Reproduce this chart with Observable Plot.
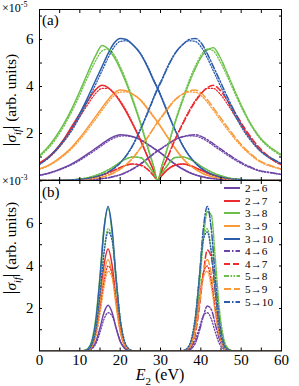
<!DOCTYPE html>
<html><head><meta charset="utf-8">
<script src="https://cdn.jsdelivr.net/npm/d3@7"></script>
<script src="https://cdn.jsdelivr.net/npm/@observablehq/plot@0.6"></script>
<style>
body{margin:0;background:#fff;}
#wrap{position:relative;width:299px;height:386px;font-family:"Liberation Serif","Times New Roman",Times,serif;color:#000;overflow:hidden;}
#wrap svg{position:absolute;left:0;}
.t{position:absolute;white-space:nowrap;line-height:1;}
.leg{position:absolute;left:224px;top:182px;font-size:11.2px;line-height:12px;}
.leg div{height:12.6px;display:flex;align-items:center;}
.leg span{line-height:12px;}
.leg svg{position:static !important;margin-right:5px;}
</style></head><body><div id="wrap"></div>
<script>
// transitions (legend order)
const transitions = ["2→6","2→7","3→8","3→9","3→10","4→6","4→7","5→8","5→9","5→10"];
const colors = ["#6d44a6","#eb2b2f","#6cc04a","#f99b3a","#2c5dab","#6d44a6","#eb2b2f","#6cc04a","#f99b3a","#2c5dab"];
const dashes = [null,null,null,null,null,"6,2,1.5,2","6,3","5,1.5,1.5,1.5,1.5,1.5","7,3","6,2,1.5,2"];

// panel (a): E2 grid (eV) and |sigma| values (x1e-5)
const Ea = [0,2,4,6,8,10,12,14,15.5,17,18.5,20,21.5,23,25,27,28.3,29.3,30.3,31.6,33.6,35.6,37.1,38.6,40.1,41.6,43.1,44.6,46.6,48.6,50.6,52.6,54.6,56.6,58.6,60];
const a_2_6  = [0.22,0.3,0.41,0.55,0.71,0.91,1.14,1.38,1.56,1.74,1.88,1.95,1.93,1.87,1.74,1.52,1.37,1.26,1.13,0.95,0.69,0.47,0.34,0.24,0.17,0.11,0.08,0.05,0.03,0.02,0.01,0,0,0,0,0];
const a_2_7  = [0.75,0.98,1.3,1.75,2.3,2.85,3.4,3.88,4.05,3.95,3.7,3.35,2.92,2.43,1.72,0.92,0.42,0,0.2,0.44,0.65,0.7,0.65,0.55,0.43,0.32,0.23,0.16,0.09,0.05,0.02,0.01,0,0,0,0];
const a_3_8  = [1.06,1.4,1.85,2.4,3.05,3.8,4.6,5.35,5.75,5.6,5.25,4.75,4.15,3.45,2.45,1.3,0.6,0,0.3,0.62,0.98,1.0,0.92,0.78,0.6,0.45,0.32,0.22,0.12,0.06,0.03,0.015,0.01,0,0,0];
const a_3_9  = [0.5,0.63,0.84,1.1,1.42,1.82,2.27,2.74,3.1,3.44,3.72,3.85,3.82,3.69,3.43,3.0,2.7,2.48,2.22,1.88,1.37,0.92,0.67,0.48,0.33,0.22,0.15,0.1,0.06,0.03,0.02,0.01,0,0,0,0];
const a_3_10 = [0.7,0.95,1.3,1.72,2.22,2.85,3.55,4.3,4.85,5.4,5.85,6.05,6.0,5.8,5.4,4.75,4.25,3.9,3.5,2.95,2.15,1.45,1.05,0.75,0.52,0.35,0.24,0.16,0.09,0.05,0.03,0.015,0.01,0,0,0];
const a_4_6  = [0,0,0,0,0.01,0.02,0.03,0.05,0.08,0.11,0.17,0.24,0.34,0.47,0.69,0.95,1.13,1.26,1.37,1.52,1.74,1.87,1.93,1.95,1.88,1.74,1.56,1.38,1.14,0.91,0.71,0.55,0.42,0.36,0.3,0.26];
const a_4_7  = [0,0,0,0.01,0.02,0.05,0.09,0.16,0.23,0.32,0.43,0.55,0.65,0.7,0.65,0.44,0.2,0,0.42,0.92,1.72,2.43,2.92,3.35,3.7,3.95,4.05,3.88,3.4,2.85,2.3,1.8,1.38,1.05,0.8,0.68];
const a_5_8  = [0,0,0.01,0.015,0.03,0.06,0.12,0.22,0.32,0.45,0.6,0.78,0.92,1.0,0.98,0.62,0.3,0,0.6,1.3,2.45,3.45,4.15,4.75,5.25,5.55,5.65,5.3,4.55,3.75,3.0,2.35,1.85,1.5,1.25,1.1];
const a_5_9  = [0,0,0,0.01,0.02,0.03,0.06,0.1,0.15,0.22,0.33,0.48,0.67,0.92,1.37,1.88,2.22,2.48,2.7,3.0,3.43,3.69,3.82,3.85,3.72,3.44,3.1,2.74,2.27,1.82,1.42,1.1,0.84,0.68,0.56,0.48];
const a_5_10 = [0,0,0.01,0.015,0.03,0.05,0.09,0.16,0.24,0.35,0.52,0.75,1.05,1.45,2.15,2.95,3.5,3.9,4.25,4.75,5.4,5.8,6.0,6.05,5.85,5.4,4.85,4.3,3.55,2.85,2.22,1.72,1.3,1.05,0.85,0.72];
// dotted counterparts in (a)
const ad_2_6  = [0.22,0.29,0.39,0.52,0.67,0.86,1.08,1.31,1.49,1.67,1.81,1.89,1.9,1.86,1.74,1.53,1.38,1.27,1.15,0.97,0.71,0.49,0.36,0.25,0.18,0.12,0.08,0.05,0.03,0.02,0.01,0,0,0,0,0];
const ad_2_7  = [0.73,0.95,1.25,1.68,2.2,2.72,3.25,3.72,3.92,3.92,3.72,3.4,2.98,2.48,1.76,0.94,0.43,0,0.21,0.45,0.66,0.7,0.65,0.55,0.43,0.32,0.23,0.16,0.09,0.05,0.02,0.01,0,0,0,0];
const ad_3_8  = [1.02,1.34,1.76,2.3,2.93,3.65,4.42,5.12,5.52,5.6,5.35,4.86,4.26,3.55,2.52,1.34,0.62,0,0.3,0.62,0.97,1.0,0.92,0.78,0.6,0.45,0.32,0.22,0.12,0.06,0.03,0.015,0.01,0,0,0];
const ad_3_9  = [0.48,0.6,0.8,1.05,1.36,1.74,2.17,2.63,2.99,3.33,3.61,3.76,3.77,3.68,3.45,3.04,2.74,2.5,2.24,1.9,1.39,0.94,0.68,0.49,0.34,0.23,0.15,0.1,0.06,0.03,0.02,0.01,0,0,0,0];
const ad_3_10 = [0.68,0.92,1.25,1.65,2.12,2.72,3.4,4.12,4.67,5.22,5.68,5.92,5.95,5.8,5.42,4.8,4.3,3.95,3.55,3.0,2.18,1.48,1.07,0.76,0.53,0.36,0.24,0.16,0.09,0.05,0.03,0.015,0.01,0,0,0];
const ad_4_6  = [0,0,0,0,0.01,0.02,0.03,0.05,0.08,0.12,0.18,0.25,0.36,0.49,0.71,0.97,1.15,1.27,1.38,1.53,1.74,1.86,1.9,1.89,1.81,1.67,1.49,1.31,1.08,0.86,0.67,0.52,0.4,0.34,0.29,0.25];
const ad_4_7  = [0,0,0,0.01,0.02,0.05,0.09,0.16,0.23,0.32,0.43,0.55,0.65,0.7,0.66,0.45,0.21,0,0.43,0.94,1.76,2.48,2.98,3.4,3.72,3.92,3.92,3.72,3.25,2.72,2.2,1.72,1.32,1.02,0.78,0.66];
const ad_5_8  = [0,0,0.01,0.015,0.03,0.06,0.12,0.22,0.32,0.45,0.6,0.78,0.92,1.0,0.97,0.62,0.3,0,0.62,1.34,2.52,3.55,4.26,4.86,5.35,5.6,5.52,5.12,4.42,3.65,2.93,2.3,1.8,1.45,1.2,1.05];
const ad_5_9  = [0,0,0,0.01,0.02,0.03,0.06,0.1,0.15,0.23,0.34,0.49,0.68,0.94,1.39,1.9,2.24,2.5,2.74,3.04,3.45,3.68,3.77,3.76,3.61,3.33,2.99,2.63,2.17,1.74,1.36,1.05,0.8,0.64,0.54,0.47];
const ad_5_10 = [0,0,0.01,0.015,0.03,0.05,0.09,0.16,0.24,0.36,0.53,0.76,1.07,1.48,2.18,3.0,3.55,3.95,4.3,4.8,5.42,5.8,5.95,5.92,5.68,5.22,4.67,4.12,3.4,2.72,2.12,1.65,1.27,1.0,0.82,0.7];

// panel (b): E2 grid (eV) and |sigma| values (x1e-3)
const Eb = [0,9,10,11,12,13,14,15,16,17,18,19,20,21,22,23,24,25,33.6,34.6,35.6,36.6,37.6,38.6,39.6,40.6,41.6,42.6,43.6,44.6,45.6,46.6,47.6,48.6,49.6,60];
const b_2_6  = [0,0,0,0,0.03,0.14,0.45,1.08,1.81,2.15,1.81,1.08,0.45,0.14,0.03,0,0,0, 0,0,0,0,0,0,0,0,0,0,0,0,0,0,0,0,0,0];
const b_2_7  = [0,0,0,0.01,0.06,0.3,1.01,2.4,4.04,4.8,4.04,2.4,1.01,0.3,0.06,0.01,0,0, 0,0,0,0,0,0,0,0,0,0,0,0,0,0,0,0,0,0];
const b_3_8  = [0,0,0,0.02,0.12,0.5,1.6,3.55,5.8,6.7,5.55,3.25,1.35,0.4,0.08,0.01,0,0, 0,0,0,0,0,0,0,0,0,0,0,0,0,0,0,0,0,0];
const b_3_9  = [0,0,0,0.01,0.06,0.27,0.91,2.15,3.62,4.3,3.62,2.15,0.91,0.27,0.06,0.01,0,0, 0,0,0,0,0,0,0,0,0,0,0,0,0,0,0,0,0,0];
const b_3_10 = [0,0,0,0.01,0.09,0.43,1.43,3.41,5.72,6.8,5.72,3.41,1.43,0.43,0.09,0.01,0,0, 0,0,0,0,0,0,0,0,0,0,0,0,0,0,0,0,0,0];
const b_4_6  = [0,0,0,0,0,0,0,0,0,0,0,0,0,0,0,0,0,0, 0,0,0,0.02,0.1,0.36,0.92,1.62,2.12,1.95,1.25,0.56,0.18,0.04,0.01,0,0,0];
const b_4_7  = [0,0,0,0,0,0,0,0,0,0,0,0,0,0,0,0,0,0, 0,0,0.01,0.04,0.2,0.75,2.0,3.6,4.75,4.4,2.8,1.25,0.4,0.09,0.01,0,0,0];
const b_5_8  = [0,0,0,0,0,0,0,0,0,0,0,0,0,0,0,0,0,0, 0,0,0.01,0.06,0.3,1.1,2.9,5.2,6.55,6.4,4.3,1.95,0.65,0.15,0.02,0,0,0];
const b_5_9  = [0,0,0,0,0,0,0,0,0,0,0,0,0,0,0,0,0,0, 0,0,0.01,0.06,0.27,0.91,2.15,3.62,4.3,3.62,2.15,0.91,0.27,0.06,0.01,0,0,0];
const b_5_10 = [0,0,0,0,0,0,0,0,0,0,0,0,0,0,0,0,0,0, 0,0,0.01,0.09,0.43,1.43,3.41,5.72,6.8,5.72,3.41,1.43,0.43,0.09,0.01,0,0,0];
// dotted counterparts in (b)
const bd_2_6  = [0,0,0,0,0.02,0.1,0.35,0.87,1.5,1.8,1.65,1.08,0.5,0.17,0.04,0.01,0,0, 0,0,0,0,0,0,0,0,0,0,0,0,0,0,0,0,0,0];
const bd_2_7  = [0,0,0,0.01,0.04,0.22,0.75,1.9,3.25,4.0,3.65,2.38,1.1,0.37,0.09,0.01,0,0, 0,0,0,0,0,0,0,0,0,0,0,0,0,0,0,0,0,0];
const bd_3_8  = [0,0,0,0.01,0.07,0.33,1.12,2.8,4.75,5.75,5.3,3.45,1.58,0.53,0.13,0.02,0,0, 0,0,0,0,0,0,0,0,0,0,0,0,0,0,0,0,0,0];
const bd_3_9  = [0,0,0,0.01,0.04,0.2,0.7,1.75,3.0,3.75,3.45,2.25,1.03,0.35,0.09,0.01,0,0, 0,0,0,0,0,0,0,0,0,0,0,0,0,0,0,0,0,0];
const bd_3_10 = [0,0,0,0.01,0.06,0.3,1.05,2.7,4.6,5.6,5.2,3.4,1.55,0.52,0.13,0.02,0,0, 0,0,0,0,0,0,0,0,0,0,0,0,0,0,0,0,0,0];
const bd_4_6  = [0,0,0,0,0,0,0,0,0,0,0,0,0,0,0,0,0,0, 0,0,0.01,0.04,0.17,0.5,1.08,1.65,1.8,1.5,0.87,0.35,0.1,0.02,0,0,0,0];
const bd_4_7  = [0,0,0,0,0,0,0,0,0,0,0,0,0,0,0,0,0,0, 0,0,0.01,0.09,0.37,1.1,2.38,3.65,4.0,3.25,1.9,0.75,0.22,0.04,0.01,0,0,0];
const bd_5_8  = [0,0,0,0,0,0,0,0,0,0,0,0,0,0,0,0,0,0, 0,0,0.02,0.13,0.53,1.58,3.45,5.3,5.75,4.75,2.8,1.12,0.33,0.07,0.01,0,0,0];
const bd_5_9  = [0,0,0,0,0,0,0,0,0,0,0,0,0,0,0,0,0,0, 0,0,0.01,0.09,0.35,1.03,2.25,3.45,3.75,3.0,1.75,0.7,0.2,0.04,0.01,0,0,0];
const bd_5_10 = [0,0,0,0,0,0,0,0,0,0,0,0,0,0,0,0,0,0, 0,0,0.02,0.13,0.52,1.55,3.4,5.2,5.6,4.6,2.7,1.05,0.3,0.06,0.01,0,0,0];

// ticks
const xTicks = [0,5,10,15,20,25,30,35,40,45,50,55,60];
const xLabels = [0,10,20,30,40,50,60];
const yTicksA = [1,2,3,4,5,6,7];
const yTicksB = [1,2,3,4,5,6,7,8];
const yLabels = [2,4,6];

const aMain = [a_2_6,a_2_7,a_3_8,a_3_9,a_3_10,a_4_6,a_4_7,a_5_8,a_5_9,a_5_10];
const aDot  = [ad_2_6,ad_2_7,ad_3_8,ad_3_9,ad_3_10,ad_4_6,ad_4_7,ad_5_8,ad_5_9,ad_5_10];
const bMain = [b_2_6,b_2_7,b_3_8,b_3_9,b_3_10,b_4_6,b_4_7,b_5_8,b_5_9,b_5_10];
const bDot  = [bd_2_6,bd_2_7,bd_3_8,bd_3_9,bd_3_10,bd_4_6,bd_4_7,bd_5_8,bd_5_9,bd_5_10];

const FONT = '"Liberation Serif","Times New Roman",Times,serif';

function lineMarks(E, main, dot) {
  const marks = [];
  main.forEach((vals, i) => {
    const rows = E.map((e, j) => ({E: e, v: vals[j]}));
    marks.push(Plot.line(rows, {x: "E", y: "v", stroke: colors[i], strokeWidth: 1.5,
      strokeDasharray: dashes[i] || undefined, curve: "monotone-x", clip: true}));
  });
  dot.forEach((vals, i) => {
    const rows = E.map((e, j) => ({E: e, v: vals[j]}));
    marks.push(Plot.line(rows, {x: "E", y: "v", stroke: colors[i], strokeWidth: 1.3,
      strokeDasharray: "1.2,1.8", curve: "monotone-x", clip: true}));
  });
  return marks;
}

function axes(yTicks, withXLabels) {
  const m = [
    Plot.axisX(xTicks, {anchor: "bottom", tickSize: -3, tickFormat: () => "", label: null}),
    Plot.axisX(xTicks, {anchor: "top", tickSize: -3, tickFormat: () => "", label: null}),
    Plot.axisY(yTicks, {anchor: "left", tickSize: -3, tickFormat: () => "", label: null}),
    Plot.axisY(yTicks, {anchor: "right", tickSize: -3, tickFormat: () => "", label: null}),
    Plot.axisY(yLabels, {anchor: "left", tickSize: 0, tickPadding: 6, label: null, fontSize: 15}),
    Plot.frame({stroke: "#000", strokeWidth: 1})
  ];
  if (withXLabels) m.push(Plot.axisX(xLabels, {anchor: "bottom", tickSize: 0, tickPadding: 3, label: null, fontSize: 15}));
  return m;
}

const plotA = Plot.plot({
  width: 299, height: 181, marginLeft: 39, marginRight: 18, marginTop: 9, marginBottom: 1,
  x: {domain: [0, 60]}, y: {domain: [0, 7.28]},
  style: {fontFamily: FONT, fontSize: "15px", background: "transparent", color: "#000"},
  marks: [...lineMarks(Ea, aMain, aDot), ...axes(yTicksA, false)]
});
const plotB = Plot.plot({
  width: 299, height: 206, marginLeft: 39, marginRight: 18, marginTop: 0, marginBottom: 35.5,
  x: {domain: [0, 60]}, y: {domain: [0, 8.02]},
  style: {fontFamily: FONT, fontSize: "15px", background: "transparent", color: "#000"},
  marks: [...lineMarks(Eb, bMain, bDot), ...axes(yTicksB, true)]
});

const wrap = document.getElementById("wrap");
plotA.style.top = "0px";
plotB.style.top = "180px";
wrap.appendChild(plotA);
wrap.appendChild(plotB);

function addText(html, css) {
  const d = document.createElement("div");
  d.className = "t";
  d.innerHTML = html;
  Object.assign(d.style, css);
  wrap.appendChild(d);
  return d;
}
addText('×10<sup style="font-size:8px;vertical-align:5px">-5</sup>', {left: "2px", top: "1px", fontSize: "12px"});
addText('×10<sup style="font-size:8px;vertical-align:5px">-3</sup>', {left: "2px", top: "174px", fontSize: "12px"});
addText('(a)', {left: "42px", top: "13px", fontSize: "15px"});
addText('(b)', {left: "42px", top: "185px", fontSize: "15px"});
const ylab = '<span style="font-size:18px">|</span><i>σ</i><sub style="font-size:10px"><i>if</i></sub><span style="font-size:18px">|</span> (arb. units)';
addText(ylab, {left: "12px", top: "100px", fontSize: "15.5px", transform: "translate(-50%,-50%) rotate(-90deg)"});
addText(ylab, {left: "12px", top: "248px", fontSize: "15.5px", transform: "translate(-50%,-50%) rotate(-90deg)"});
addText('<i>E</i><sub style="font-size:11px">2</sub> (eV)', {left: "160px", top: "377px", fontSize: "16px", transform: "translate(-50%,-50%)"});

// legend
const leg = document.createElement("div");
leg.className = "leg";
transitions.forEach((t, i) => {
  const row = document.createElement("div");
  row.innerHTML = `<svg width="16" height="8"><line x1="0" y1="4" x2="16" y2="4" stroke="${colors[i]}" stroke-width="2" ${dashes[i] ? `stroke-dasharray="${dashes[i]}"` : ""}/></svg><span>${t}</span>`;
  leg.appendChild(row);
});
wrap.appendChild(leg);
</script>
</body></html>
